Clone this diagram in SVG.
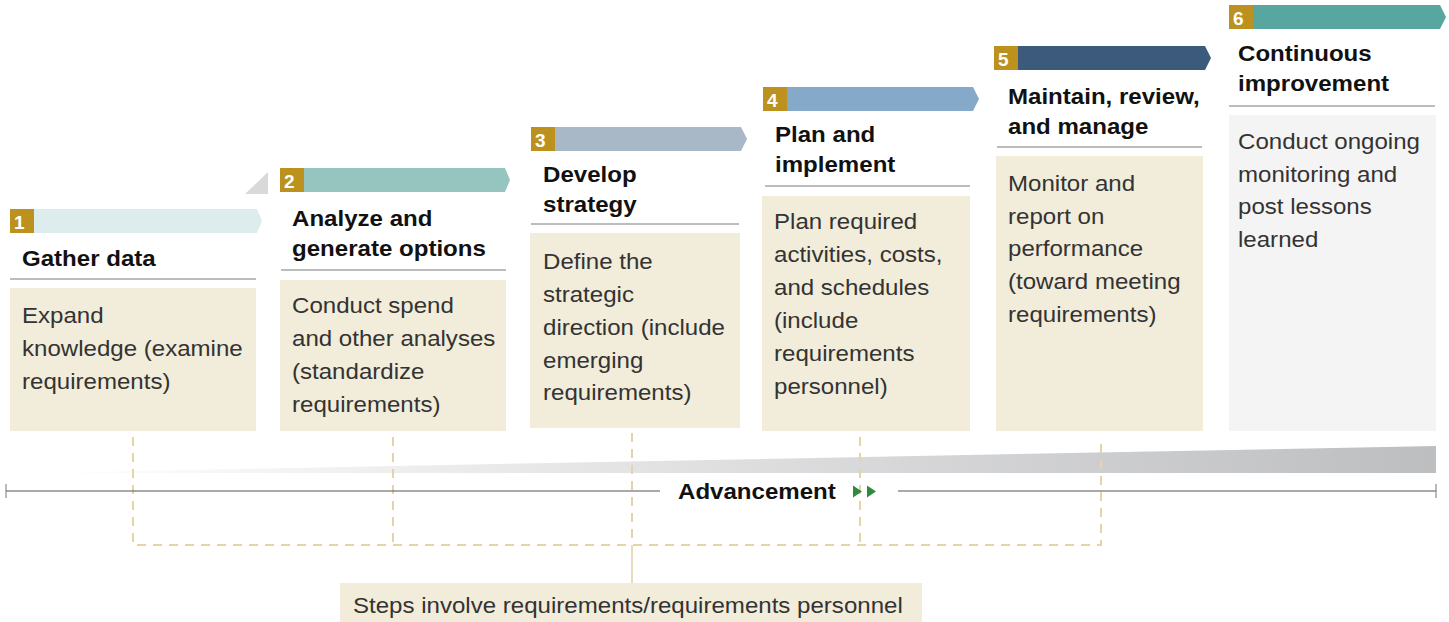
<svg xmlns="http://www.w3.org/2000/svg" width="1449" height="622" viewBox="0 0 1449 622">
<style>
.badge{fill:#BD911E}
.num{font-family:"Liberation Sans",Arial,sans-serif;font-weight:bold;font-size:19px;fill:#fff}
.ttl{font-family:"Liberation Sans",Arial,sans-serif;font-weight:bold;font-size:21.5px;fill:#111}
.body{font-family:"Liberation Sans",Arial,sans-serif;font-size:21.5px;fill:#333}
.rule{stroke:#7a7a7a;stroke-width:1}
.box{fill:#F2ECDA}
.dash{fill:none;stroke:#E6D4A6;stroke-width:2;stroke-dasharray:9 7}
</style>
<defs>
<linearGradient id="wedge" x1="0" y1="0" x2="1" y2="0">
<stop offset="0" stop-color="#ffffff"/>
<stop offset="1" stop-color="#BDBEC0"/>
</linearGradient>
</defs>

<polygon points="30,473 1436,446 1436,473" fill="url(#wedge)"/>

<g id="connectors">
<path class="dash" d="M133,437 V545 H1101 V437"/>
<path class="dash" d="M393,437 V545"/>
<path class="dash" d="M632,433 V545"/>
<path class="dash" d="M860,437 V545"/>
<line x1="632" y1="545" x2="632" y2="583" stroke="#D8C38A" stroke-width="1.2"/>
</g>

<g id="axis">
<line x1="6" y1="491" x2="660" y2="491" stroke="#555" stroke-width="1.2"/>
<line x1="898" y1="491" x2="1436" y2="491" stroke="#555" stroke-width="1.2"/>
<line x1="6" y1="484" x2="6" y2="498" stroke="#777" stroke-width="1"/>
<line x1="1436" y1="484" x2="1436" y2="498" stroke="#777" stroke-width="1"/>
<text class="ttl" transform="matrix(1.12 0 0 1 678 0)" x="0" y="499">Advancement</text>
<polygon points="853,485.5 862,491.5 853,497.5" fill="#2E8B3E"/>
<polygon points="867,485.5 876,491.5 867,497.5" fill="#2E8B3E"/>
</g>

<g id="step1">
<polygon points="34,209 257,209 262,221 257,233 34,233" fill="#DDECEC"/>
<rect class="badge" x="10" y="209" width="24" height="24"/>
<text class="num" x="14" y="229">1</text>
<text class="ttl" transform="matrix(1.12 0 0 1 22 0)" x="0" y="266">Gather data</text>
<line class="rule" x1="10" y1="279" x2="256" y2="279"/>
<rect class="box" x="10" y="288" width="246" height="143"/>
<text class="body" transform="matrix(1.12 0 0 1 22 0)"><tspan x="0" y="323">Expand</tspan><tspan x="0" y="356">knowledge (examine</tspan><tspan x="0" y="389">requirements)</tspan></text>
</g>

<g id="step2">
<polygon points="268,172 268,194 245,194" fill="#D9D9D9"/>
<polygon points="304,168 505,168 510,180 505,192 304,192" fill="#96C5C0"/>
<rect class="badge" x="280" y="168" width="24" height="24"/>
<text class="num" x="284" y="188">2</text>
<text class="ttl" transform="matrix(1.12 0 0 1 292 0)"><tspan x="0" y="226">Analyze and</tspan><tspan x="0" y="256">generate options</tspan></text>
<line class="rule" x1="281" y1="270" x2="506" y2="270"/>
<rect class="box" x="280" y="280" width="226" height="151"/>
<text class="body" transform="matrix(1.12 0 0 1 292 0)"><tspan x="0" y="313">Conduct spend</tspan><tspan x="0" y="346">and other analyses</tspan><tspan x="0" y="379">(standardize</tspan><tspan x="0" y="412">requirements)</tspan></text>
</g>

<g id="step3">
<polygon points="555,127 741,127 747,139 741,151 555,151" fill="#A9B8C7"/>
<rect class="badge" x="531" y="127" width="24" height="24"/>
<text class="num" x="535" y="147">3</text>
<text class="ttl" transform="matrix(1.12 0 0 1 543 0)"><tspan x="0" y="182">Develop</tspan><tspan x="0" y="212">strategy</tspan></text>
<line class="rule" x1="531" y1="224" x2="739" y2="224"/>
<rect class="box" x="530" y="233" width="210" height="195"/>
<text class="body" transform="matrix(1.12 0 0 1 543 0)"><tspan x="0" y="269">Define the</tspan><tspan x="0" y="302">strategic</tspan><tspan x="0" y="335">direction (include</tspan><tspan x="0" y="368">emerging</tspan><tspan x="0" y="400">requirements)</tspan></text>
</g>

<g id="step4">
<polygon points="787,87 973,87 979,99 973,111 787,111" fill="#84A9C9"/>
<rect class="badge" x="763" y="87" width="24" height="24"/>
<text class="num" x="767" y="107">4</text>
<text class="ttl" transform="matrix(1.12 0 0 1 775 0)"><tspan x="0" y="142">Plan and</tspan><tspan x="0" y="172">implement</tspan></text>
<line class="rule" x1="765" y1="186" x2="970" y2="186"/>
<rect class="box" x="762" y="196" width="208" height="235"/>
<text class="body" transform="matrix(1.12 0 0 1 774 0)"><tspan x="0" y="229">Plan required</tspan><tspan x="0" y="262">activities, costs,</tspan><tspan x="0" y="295">and schedules</tspan><tspan x="0" y="328">(include</tspan><tspan x="0" y="361">requirements</tspan><tspan x="0" y="394">personnel)</tspan></text>
</g>

<g id="step5">
<polygon points="1018,46 1205,46 1211,58 1205,70 1018,70" fill="#3B5A7C"/>
<rect class="badge" x="994" y="46" width="24" height="24"/>
<text class="num" x="998" y="66">5</text>
<text class="ttl" transform="matrix(1.12 0 0 1 1008 0)"><tspan x="0" y="104">Maintain, review,</tspan><tspan x="0" y="134">and manage</tspan></text>
<line class="rule" x1="997" y1="147" x2="1202" y2="147"/>
<rect class="box" x="996" y="156" width="207" height="275"/>
<text class="body" transform="matrix(1.12 0 0 1 1008 0)"><tspan x="0" y="191">Monitor and</tspan><tspan x="0" y="224">report on</tspan><tspan x="0" y="256">performance</tspan><tspan x="0" y="289">(toward meeting</tspan><tspan x="0" y="322">requirements)</tspan></text>
</g>

<g id="step6">
<polygon points="1253,5 1440,5 1446,17 1440,29 1253,29" fill="#58A6A0"/>
<rect class="badge" x="1229" y="5" width="24" height="24"/>
<text class="num" x="1233" y="25">6</text>
<text class="ttl" transform="matrix(1.12 0 0 1 1238 0)"><tspan x="0" y="61">Continuous</tspan><tspan x="0" y="91">improvement</tspan></text>
<line class="rule" x1="1229" y1="106" x2="1435" y2="106"/>
<rect x="1229" y="115" width="207" height="316" fill="#F4F4F4"/>
<text class="body" transform="matrix(1.12 0 0 1 1238 0)"><tspan x="0" y="149">Conduct ongoing</tspan><tspan x="0" y="182">monitoring and</tspan><tspan x="0" y="214">post lessons</tspan><tspan x="0" y="247">learned</tspan></text>
</g>

<g id="note">
<rect class="box" x="340" y="583" width="582" height="39"/>
<text class="body" transform="matrix(1.12 0 0 1 353 0)" x="0" y="613">Steps involve requirements/requirements personnel</text>
</g>
</svg>
